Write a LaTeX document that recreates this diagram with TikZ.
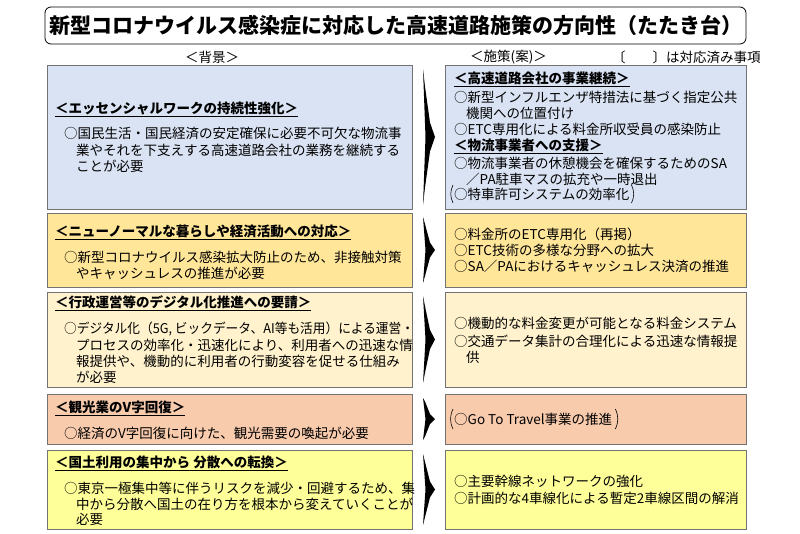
\documentclass[tikz,border=0pt]{standalone}
\usepackage{fontspec}
\setmainfont{Noto Sans CJK JP}
\begin{document}
\begin{tikzpicture}[x=1pt,y=-1pt,
  L/.style={anchor=west,inner sep=0pt,font=\fontsize{13.5}{16}\selectfont},
  H/.style={anchor=west,inner sep=0pt,font=\fontsize{13.5}{16}\selectfont\bfseries},
  box/.style={draw=black!55,line width=1pt},
  arr/.style={fill=black},
  brk/.style={draw=black,line width=0.6pt}]
\useasboundingbox (0,0) rectangle (800,533);
\definecolor{cB}{HTML}{DAE3F3}\definecolor{cO}{HTML}{FFE699}
\definecolor{cC}{HTML}{FFF2CC}\definecolor{cS}{HTML}{F8CBAD}\definecolor{cY}{HTML}{FFFF99}
% title
\node[draw,rounded corners=6pt,line width=0.8pt,minimum width=701pt,minimum height=37pt,inner sep=0pt,font=\fontsize{21}{24}\selectfont\bfseries] (title) at (395.5,25.5) {新型コロナウイルス感染症に対応した高速道路施策の方向性（たたき台）};
\node[L] (h1) at (185,57) {＜背景＞};
\node[L] (h2) at (470,57) {＜施策(案)＞};
\node[L] (h3) at (612,57) {〔\hspace{2em}〕は対応済み事項};
% boxes
\foreach \n/\c/\a/\b in {1/cB/65/209,2/cO/213/287,3/cC/292/387,4/cS/394/444,5/cY/450/529}{
  \draw[box,fill=\c] (47,\a) rectangle (412,\b);
  \draw[box,fill=\c] (445,\a) rectangle (746,\b);
  \pgfmathsetmacro{\m}{(\a+\b)/2}\pgfmathsetmacro{\h}{(\b-\a)/2}
  \fill[arr] (423,\a+4) -- (425,{\a+0.3*\h}) -- (430,{\m-0.2*\h}) -- (435,\m) -- (430,{\m+0.2*\h}) -- (425,{\b-0.3*\h}) -- (423,\b-4) -- (425.5,\m) -- cycle;
}
% row 1
\node[H] (a1) at (55,109) {\underline{＜エッセンシャルワークの持続性強化＞}};
\node[L] (a2) at (64,133) {○国民生活・国民経済の安定確保に必要不可欠な物流事};
\node[L] (a3) at (76,150) {業やそれを下支えする高速道路会社の業務を継続する};
\node[L] (a4) at (76,166) {ことが必要};
\node[H] (b1) at (454,79) {\underline{＜高速道路会社の事業継続＞}};
\node[L] (b2) at (454,97) {○新型インフルエンザ特措法に基づく指定公共};
\node[L] (b3) at (466,113) {機関への位置付け};
\node[L] (b4) at (454,129) {○ETC専用化による料金所収受員の感染防止};
\node[H] (b5) at (454,146) {\underline{＜物流事業者への支援＞}};
\node[L] (b6) at (454,163) {○物流事業者の休憩機会を確保するためのSA};
\node[L] (b7) at (466,179) {／PA駐車マスの拡充や一時退出};
\node[L] (b8) at (454,194) {○特車許可システムの効率化};
\draw[brk] ([xshift=-1pt,yshift=-9pt]b8.west) to[bend left=25] ([xshift=-1pt,yshift=9pt]b8.west);
\draw[brk] ([xshift=2pt,yshift=-9pt]b8.east) to[bend right=25] ([xshift=2pt,yshift=9pt]b8.east);
% row 2
\node[H] (c1) at (55,232) {\underline{＜ニューノーマルな暮らしや経済活動への対応＞}};
\node[L] (c2) at (64,257) {○新型コロナウイルス感染拡大防止のため、非接触対策};
\node[L] (c3) at (76,273) {やキャッシュレスの推進が必要};
\node[L] (d1) at (454,234) {○料金所のETC専用化（再掲）};
\node[L] (d2) at (454,250) {○ETC技術の多様な分野への拡大};
\node[L] (d3) at (454,266) {○SA／PAにおけるキャッシュレス決済の推進};
% row 3
\node[H] (e1) at (55,303) {\underline{＜行政運営等のデジタル化推進への要請＞}};
\node[L] (e2) at (64,329) {\scalebox{0.94}[1]{○デジタル化（5G, ビックデータ、AI等も活用）による運営・}};
\node[L] (e3) at (76,345) {プロセスの効率化・迅速化により、利用者への迅速な情};
\node[L] (e4) at (76,361) {報提供や、機動的に利用者の行動変容を促せる仕組み};
\node[L] (e5) at (76,377) {が必要};
\node[L] (f1) at (454,323) {○機動的な料金変更が可能となる料金システム};
\node[L] (f2) at (454,341) {○交通データ集計の合理化による迅速な情報提};
\node[L] (f3) at (466,357) {供};
% row 4
\node[H] (g1) at (55,408) {\underline{＜観光業のV字回復＞}};
\node[L] (g2) at (64,433) {○経済のV字回復に向けた、観光需要の喚起が必要};
\node[L] (h4) at (454,419) {○Go To Travel事業の推進};
\draw[brk] ([xshift=-1pt,yshift=-10pt]h4.west) to[bend left=25] ([xshift=-1pt,yshift=10pt]h4.west);
\draw[brk] ([xshift=3pt,yshift=-10pt]h4.east) to[bend right=25] ([xshift=3pt,yshift=10pt]h4.east);
% row 5
\node[H] (i1) at (55,463) {\underline{＜国土利用の集中から\ 分散への転換＞}};
\node[L] (i2) at (64,488) {○東京一極集中等に伴うリスクを減少・回避するため、集};
\node[L] (i3) at (76,504) {中から分散へ国土の在り方を根本から変えていくことが};
\node[L] (i4) at (76,519) {必要};
\node[L] (j1) at (454,481) {○主要幹線ネットワークの強化};
\node[L] (j2) at (454,498) {○計画的な4車線化による暫定2車線区間の解消};
\end{tikzpicture}
\end{document}
